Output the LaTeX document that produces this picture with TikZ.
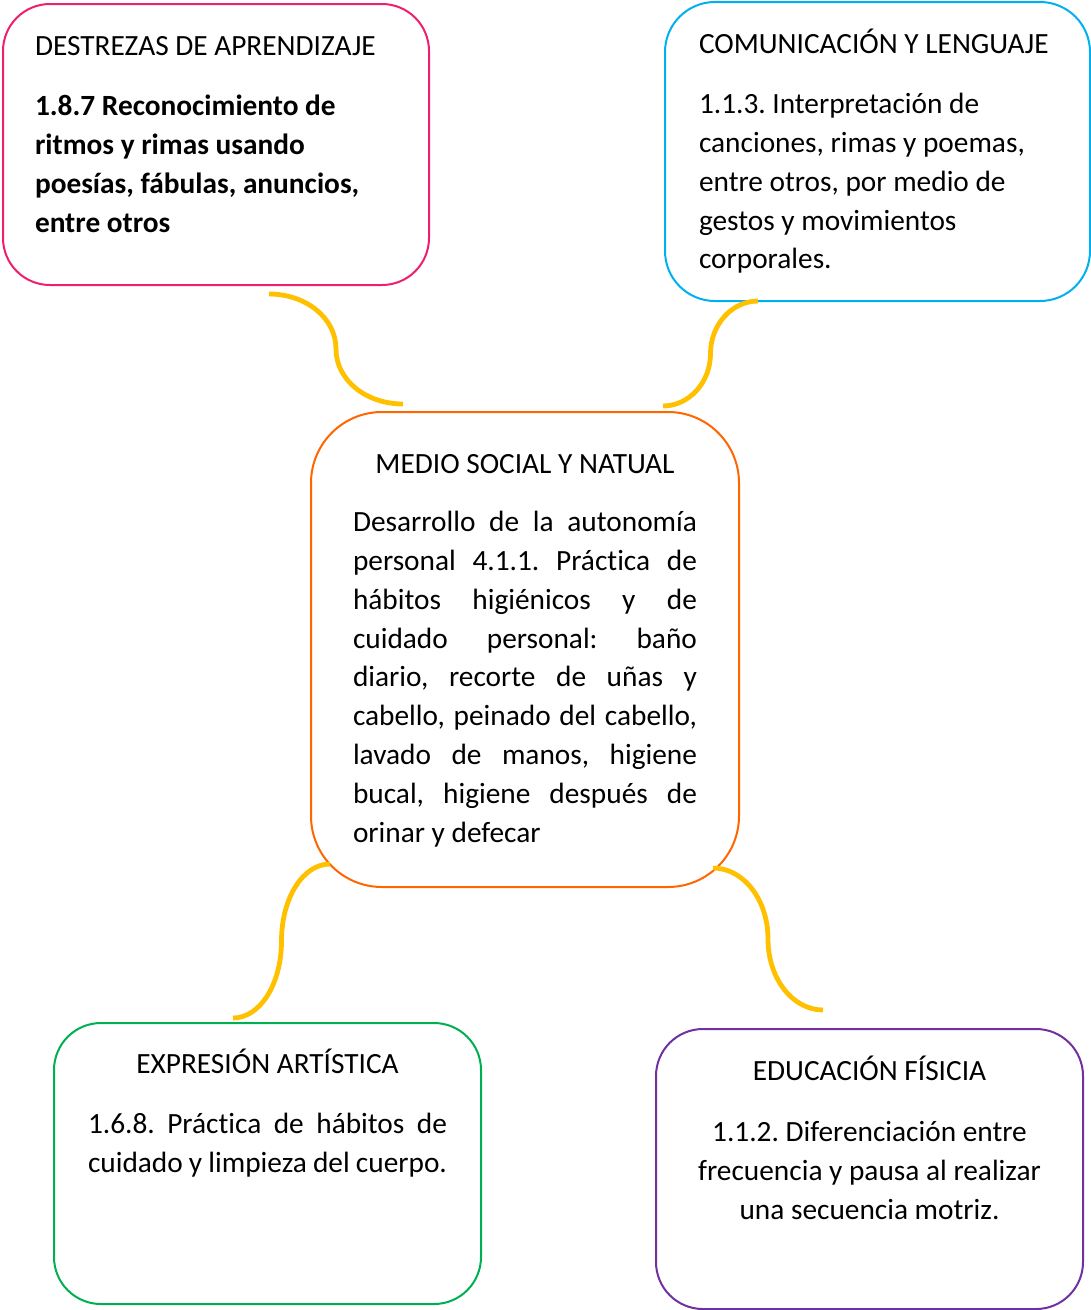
\documentclass[tikz,border=0pt]{standalone}
\usepackage{fontspec}
\setmainfont[Ligatures={NoCommon}]{Carlito}
\usetikzlibrary{calc}

\newlength\pxu
\setlength\pxu{0.75pt}
\newcommand\areafont{\fontsize{22pt}{29.1pt}\selectfont\frenchspacing}

\definecolor{rosa}{RGB}{240,30,110}
\definecolor{celeste}{RGB}{0,176,240}
\definecolor{naranja}{RGB}{255,102,0}
\definecolor{verde}{RGB}{0,176,80}
\definecolor{morado}{RGB}{112,48,160}
\definecolor{dorado}{RGB}{255,192,0}

\tikzset{
  areabox/.style={draw, line width=1.5pt, anchor=north west, inner ysep=0pt, font=\areafont},
  enlace/.style={draw=dorado, line width=3.6pt},
}

\begin{document}
\begin{tikzpicture}[x=0.75pt, y=-0.75pt]
\useasboundingbox (0,0) rectangle (1090,1310);

% areas
\node (destrezas) [areabox, draw=rosa, rounded corners=47\pxu, inner xsep=32\pxu] at (2,3)
  {\parbox[c][281\pxu][t]{362\pxu}{\vspace*{24.8\pxu}\raggedright
   \strut DESTREZAS DE APRENDIZAJE\par\vspace{21\pxu}
   \bfseries 1.8.7 Reconocimiento de\\ ritmos y rimas usando\\ poesías, fábulas, anuncios,\\ entre otros}};

\node (comunicacion) [areabox, draw=celeste, rounded corners=50\pxu, inner xsep=34\pxu] at (664,1)
  {\parbox[c][299\pxu][t]{357\pxu}{\vspace*{24.8\pxu}\raggedright
   \strut COMUNICACIÓN Y LENGUAJE\par\vspace{21\pxu}
   1.1.3. Interpretación de\\ canciones, rimas y poemas,\\ entre otros, por medio de\\ gestos y movimientos\\ corporales.}};

\node (medio) [areabox, draw=naranja, rounded corners=71\pxu, inner xsep=42\pxu] at (310,411)
  {\parbox[c][475\pxu][t]{344\pxu}{\vspace*{34.8\pxu}
   {\centering\strut MEDIO SOCIAL Y NATUAL\par}\vspace{19\pxu}
   Desarrollo de la autonomía \linebreak personal 4.1.1. Práctica de \linebreak hábitos higiénicos y de
   \linebreak cuidado personal: baño \linebreak diario, recorte de uñas y \linebreak cabello, peinado del cabello,
   \linebreak lavado de manos, higiene \linebreak bucal, higiene después de \linebreak orinar y defecar}};

\node (expresion) [areabox, draw=verde, rounded corners=47\pxu, inner xsep=34\pxu] at (53,1022)
  {\parbox[c][281\pxu][t]{359\pxu}{\vspace*{23.8\pxu}
   {\centering\strut EXPRESIÓN ARTÍSTICA\par}\vspace{21\pxu}
   1.6.8. Práctica de hábitos de \linebreak cuidado y limpieza del cuerpo.}};

\node (educacion) [areabox, draw=morado, rounded corners=47\pxu, inner xsep=35\pxu] at (655,1028)
  {\parbox[c][280\pxu][t]{357\pxu}{\vspace*{24.8\pxu}\centering
   \strut EDUCACIÓN FÍSICIA\par\vspace{22\pxu}
   1.1.2. Diferenciación entre\\ frecuencia y pausa al realizar\\ una secuencia motriz.}};

% enlaces
\coordinate (e1) at ([shift={(53,8)}]destrezas.south);
\coordinate (f1) at ([shift={(-122,-7)}]medio.north);
\draw[enlace] (e1) .. controls +(37,0) and +(0,-31) .. ($(e1)!.5!(f1)$) .. controls +(0,31) and +(-37,0) .. (f1);

\coordinate (e2) at ([shift={(-119.5,-1)}]comunicacion.south);
\coordinate (f2) at ([shift={(138,-5)}]medio.north);
\draw[enlace] (e2) .. controls +(-26,0) and +(0,-29) .. ($(e2)!.5!(f2)$) .. controls +(0,29) and +(26,0) .. (f2);

\coordinate (e3) at ([shift={(-195,-24)}]medio.south);
\coordinate (f3) at ([shift={(-34.5,-4)}]expresion.north);
\draw[enlace] (e3) .. controls +(-27,0) and +(0,-43) .. ($(e3)!.5!(f3)$) .. controls +(0,43) and +(27,0) .. (f3);

\coordinate (e4) at ([shift={(188,-20)}]medio.south);
\coordinate (f4) at ([shift={(-46.5,-18)}]educacion.north);
\draw[enlace] (e4) .. controls +(30,0) and +(0,-40) .. ($(e4)!.5!(f4)$) .. controls +(0,40) and +(-30,0) .. (f4);
\end{tikzpicture}
\end{document}
